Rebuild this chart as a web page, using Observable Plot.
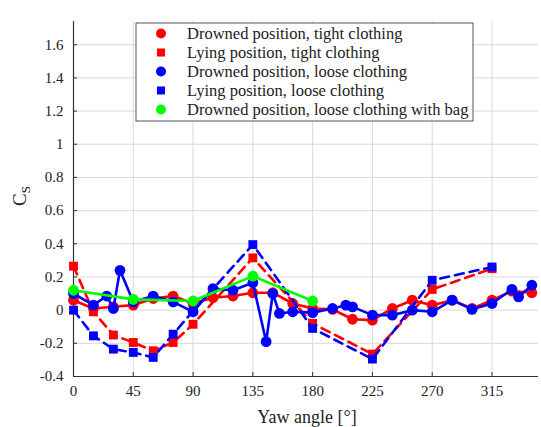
<!DOCTYPE html>
<html>
<head>
<meta charset="utf-8">
<script src="https://cdn.jsdelivr.net/npm/d3@7"></script>
<script src="https://cdn.jsdelivr.net/npm/@observablehq/plot@0.6"></script>
<style>
  html, body { margin: 0; padding: 0; background: #fff; }
  #chart { width: 541px; height: 427px; }
  #chart svg text { font-family: 'Liberation Serif', 'DejaVu Serif', serif !important; }
</style>
</head>
<body>
<div id="chart"></div>
<script>
// ---- data (yaw angle in degrees, side-force coefficient C_S) ----
const drownedTightAngle = [0, 15, 30, 45, 60, 75, 90, 105, 120, 135, 150, 165, 180, 195, 210, 225, 240, 255, 270, 285, 300, 315, 330, 345];
const drownedTightCs    = [0.06, 0.01, 0.02, 0.03, 0.07, 0.085, 0.04, 0.075, 0.085, 0.105, 0.105, 0.04, 0.01, 0.005, -0.055, -0.06, 0.01, 0.06, 0.03, 0.06, 0.01, 0.06, 0.115, 0.105];

const lyingTightAngle = [0, 15, 30, 45, 60, 75, 90, 135, 180, 225, 270, 315];
const lyingTightCs    = [0.265, -0.01, -0.15, -0.195, -0.245, -0.195, -0.085, 0.315, -0.08, -0.265, 0.125, 0.25];

const drownedLooseAngle = [0, 15, 25, 30, 35, 45, 60, 75, 90, 105, 120, 135, 145, 150, 155, 165, 180, 195, 205, 210, 225, 240, 255, 270, 285, 300, 315, 330, 335, 345];
const drownedLooseCs    = [0.10, 0.03, 0.085, 0.01, 0.24, 0.05, 0.085, 0.05, -0.01, 0.13, 0.12, 0.165, -0.19, 0.10, -0.02, -0.01, -0.015, 0.01, 0.03, 0.02, -0.03, -0.03, 0.0, -0.01, 0.06, 0.005, 0.04, 0.125, 0.08, 0.15];

const lyingLooseAngle = [0, 15, 30, 45, 60, 75, 90, 135, 180, 225, 270, 315];
const lyingLooseCs    = [0.0, -0.155, -0.235, -0.255, -0.285, -0.145, -0.005, 0.395, -0.11, -0.295, 0.18, 0.26];

const bagAngle = [0, 45, 90, 135, 180];
const bagCs    = [0.12, 0.065, 0.055, 0.205, 0.055];

const seriesNames = [
  "Drowned position, tight clothing",
  "Lying position, tight clothing",
  "Drowned position, loose clothing",
  "Lying position, loose clothing",
  "Drowned position, loose clothing with bag"
];
const seriesColors = ["#ff0000", "#ff0000", "#0000ff", "#0000ff", "#00ff00"];
const seriesSymbols = ["circle", "square", "circle", "square", "circle"];
const seriesDashed = [false, true, false, true, false];

const xTicks = [0, 45, 90, 135, 180, 225, 270, 315];
const yTicks = [-0.4, -0.2, 0, 0.2, 0.4, 0.6, 0.8, 1, 1.2, 1.4, 1.6];
const xDomain = [0, 350];
const yDomain = [-0.4, 1.74];

// ---- build tables ----
const zip = (a, v) => a.map((x, i) => ({angle: x, cs: v[i]}));
const series = [
  zip(drownedTightAngle, drownedTightCs),
  zip(lyingTightAngle, lyingTightCs),
  zip(drownedLooseAngle, drownedLooseCs),
  zip(lyingLooseAngle, lyingLooseCs),
  zip(bagAngle, bagCs)
];

const font = "'Liberation Serif', 'DejaVu Serif', serif";
const fmt = d => String(+d.toFixed(1));

const marks = [
  Plot.gridX(xTicks, {stroke: "#d9d9d9", strokeOpacity: 1}),
  Plot.gridY(yTicks, {stroke: "#d9d9d9", strokeOpacity: 1}),
  Plot.axisX(xTicks, {tickSize: 0, tickPadding: 9, tickFormat: fmt, fontSize: 15, fontFamily: font, fill: "#222", label: null}),
  Plot.axisY(yTicks, {tickSize: 0, tickPadding: 10, tickFormat: fmt, fontSize: 15, fontFamily: font, fill: "#222", label: null}),
  Plot.axisX(xTicks, {tickSize: -4, text: null, label: null, stroke: "#333"}),
  Plot.axisY(yTicks, {tickSize: -4, text: null, label: null, stroke: "#333"}),
  Plot.ruleX([xDomain[0]], {stroke: "#333", strokeWidth: 1.2}),
  Plot.ruleY([yDomain[0]], {stroke: "#333", strokeWidth: 1.2})
];

series.forEach((data, i) => {
  marks.push(Plot.line(data, {
    x: "angle", y: "cs", stroke: seriesColors[i], strokeWidth: 2.6,
    strokeDasharray: seriesDashed[i] ? "9,6" : null
  }));
  marks.push(Plot.dot(data, {
    x: "angle", y: "cs", fill: seriesColors[i], stroke: "none",
    symbol: seriesSymbols[i], r: seriesSymbols[i] === "square" ? 5 : 5.4
  }));
});

const chart = Plot.plot({
  width: 541,
  height: 427,
  marginLeft: 73,
  marginRight: 3,
  marginTop: 21,
  marginBottom: 51,
  style: {fontFamily: font, fontSize: "15px", color: "#222", background: "#fff"},
  x: {domain: xDomain},
  y: {domain: yDomain},
  marks
});

document.getElementById("chart").appendChild(chart);

// ---- axis titles ----
const svg = d3.select(chart);
svg.append("text")
  .attr("x", 307).attr("y", 423)
  .attr("text-anchor", "middle")
  .attr("font-family", font).attr("font-size", 18).attr("fill", "#222")
  .text("Yaw angle [°]");

const yl = svg.append("text")
  .attr("transform", "translate(26,196) rotate(-90)")
  .attr("text-anchor", "middle")
  .attr("font-family", font).attr("font-size", 19).attr("fill", "#222");
yl.append("tspan").text("C");
yl.append("tspan").attr("font-size", 13).attr("dy", 4).text("S");

// ---- legend (inside plot area) ----
const lg = svg.append("g").attr("transform", "translate(136,23)");
lg.append("rect").attr("width", 337).attr("height", 98)
  .attr("fill", "#fff").attr("stroke", "#555").attr("stroke-width", 1);
seriesNames.forEach((name, i) => {
  const cy = 10.5 + i * 19;
  if (seriesSymbols[i] === "circle") {
    lg.append("circle").attr("cx", 25).attr("cy", cy).attr("r", 5).attr("fill", seriesColors[i]);
  } else {
    lg.append("rect").attr("x", 21).attr("y", cy - 4).attr("width", 8).attr("height", 8).attr("fill", seriesColors[i]);
  }
  lg.append("text").attr("x", 51).attr("y", cy).attr("dy", "0.35em")
    .attr("text-anchor", "start")
    .attr("font-family", font).attr("font-size", 16.5).attr("fill", "#222")
    .text(name);
});
</script>
</body>
</html>
